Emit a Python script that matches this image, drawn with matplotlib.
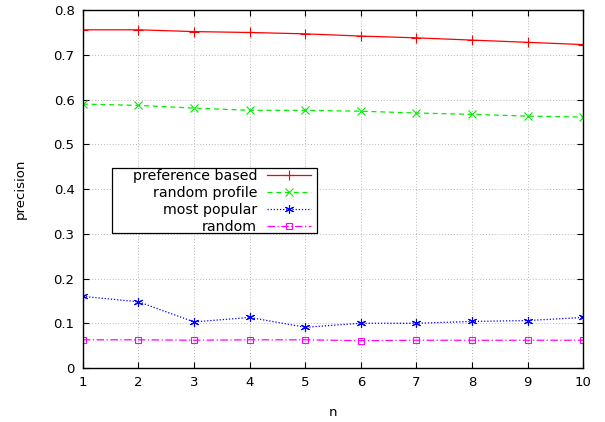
import numpy as np
import matplotlib
matplotlib.use("Agg")
import matplotlib.pyplot as plt
from matplotlib.patches import Rectangle

# data
n = [1, 2, 3, 4, 5, 6, 7, 8, 9, 10]
pref_based = [0.756, 0.756, 0.752, 0.750, 0.747, 0.742, 0.738, 0.733, 0.728, 0.723]
random_profile = [0.590, 0.587, 0.581, 0.576, 0.576, 0.574, 0.570, 0.567, 0.563, 0.561]
most_popular = [0.160, 0.148, 0.103, 0.113, 0.091, 0.100, 0.100, 0.104, 0.106, 0.113]
random_rec = [0.063, 0.063, 0.062, 0.063, 0.063, 0.061, 0.062, 0.062, 0.062, 0.062]

y_ticks = [0, 0.1, 0.2, 0.3, 0.4, 0.5, 0.6, 0.7, 0.8]
y_tick_labels = ["0", "0.1", "0.2", "0.3", "0.4", "0.5", "0.6", "0.7", "0.8"]

plt.rcParams['font.family'] = ['DejaVu Sans']
plt.rcParams['font.size'] = 9.5

fig = plt.figure(figsize=(6.05, 4.22), dpi=100)
ax = fig.add_axes([0.137, 0.128, 0.827, 0.848])

lw = 0.9
ax.plot(n, pref_based, color='#ff0000', linestyle='-', linewidth=lw,
        marker='+', markersize=7, markeredgewidth=0.8, label='preference based')
ax.plot(n, random_profile, color='#00ee00', linestyle=(0, (4, 3)), linewidth=lw,
        marker='x', markersize=5.5, markeredgewidth=0.8, label='random profile')
ax.plot(n, most_popular, color='#0000ff', linestyle=(0, (1, 1.5)), linewidth=lw,
        marker=(6, 2, 0), markersize=6.5, markeredgewidth=0.8, label='most popular')
ax.plot(n, random_rec, color='#ff00ff', linestyle=(0, (6, 2, 1, 2)), linewidth=lw,
        marker='s', markersize=5, markerfacecolor='none', markeredgewidth=0.8,
        label='random')

ax.set_xlim(1, 10)
ax.set_ylim(0, 0.8)
ax.set_xticks(n)
ax.set_yticks(y_ticks)
ax.set_yticklabels(y_tick_labels)
ax.tick_params(direction='in', top=True, right=True, length=4, width=0.8, pad=6)
ax.grid(True, color='#b8b8b8', linestyle=(0, (1, 2)), linewidth=0.7)
for s in ax.spines.values():
    s.set_linewidth(1.0)

ax.set_xlabel('n', labelpad=12)
ax.set_ylabel('precision', labelpad=19)

# gnuplot-style key: box drawn separately, entries right-aligned inside it
key_box = Rectangle((0.058, 0.377), 0.41, 0.182, transform=ax.transAxes,
                    facecolor='white', edgecolor='black', linewidth=0.9, zorder=4.5)
ax.add_patch(key_box)

leg = ax.legend(loc='upper right', bbox_to_anchor=(0.456, 0.556), markerfirst=False,
                frameon=False, handlelength=3.1, handletextpad=0.7,
                labelspacing=0.22, borderpad=0, borderaxespad=0,
                prop={'size': 10.2})
leg.set_zorder(5)

fig.savefig('out.png', dpi=100)
